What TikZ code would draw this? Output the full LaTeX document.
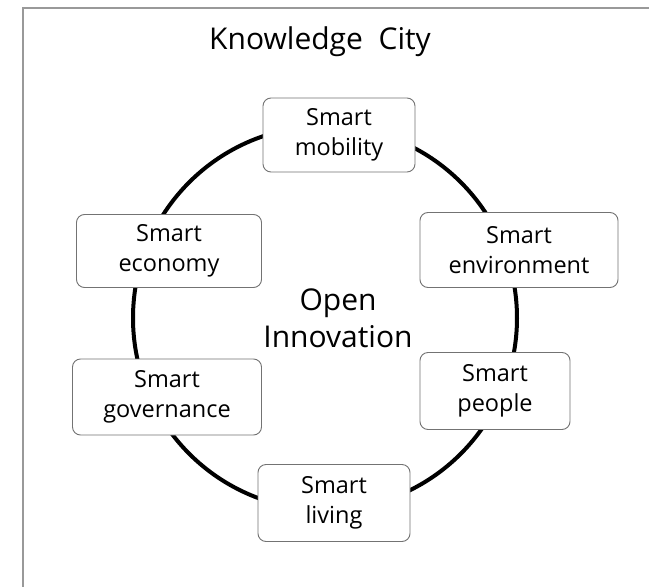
\documentclass[tikz,border=0pt]{standalone}
\usepackage{fontspec}
\setmainfont{Open Sans}

\begin{document}
\begin{tikzpicture}[x=1pt, y=-1pt,
    smartbox/.style={draw=black!55, line width=0.9pt, fill=white, rounded corners=8pt,
      align=center, inner sep=0pt, font=\fontsize{23.5}{30}\selectfont},
    ring/.style={line width=4pt, black}]
  \useasboundingbox (0,0) rectangle (649,587);
  \fill[white] (0,0) rectangle (649,587);
  \draw[black!40, line width=1.8pt] (23,587) -- (23,8) -- (649,8);
  \node[font=\fontsize{30}{36}\selectfont] (title) at (320,42) {Knowledge\ \ City};
  \node[align=center, font=\fontsize{30}{37}\selectfont] (open) at (338,318) {Open\\Innovation};
  \draw[ring] (325,318) circle (192);
  \node[smartbox, minimum width=152pt, minimum height=74pt] (mobility) at (339,135) {Smart\\mobility};
  \node[smartbox, minimum width=198pt, minimum height=75pt] (environment) at (519,250) {Smart\\environment};
  \node[smartbox, minimum width=150pt, minimum height=77pt] (people) at (495,391) {Smart\\people};
  \node[smartbox, minimum width=152pt, minimum height=77pt] (living) at (334,503) {Smart\\living};
  \node[smartbox, minimum width=189pt, minimum height=76pt] (governance) at (167,397) {Smart\\governance};
  \node[smartbox, minimum width=185pt, minimum height=73pt] (economy) at (169,251) {Smart\\economy};
\end{tikzpicture}
\end{document}
